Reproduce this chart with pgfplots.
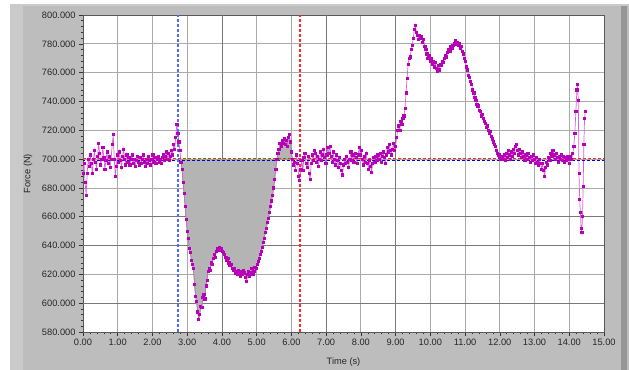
\documentclass[border=0pt]{standalone}
\usepackage{fontspec}
\setmainfont{Liberation Sans}
\usepackage{pgfplots}
\pgfplotsset{compat=1.18}
\definecolor{panel}{RGB}{189,189,189}
\definecolor{panelL}{RGB}{202,202,202}
\definecolor{panelR}{RGB}{150,150,150}
\definecolor{gridc}{RGB}{170,170,170}
\definecolor{gridd}{RGB}{120,120,120}
\definecolor{magl}{RGB}{215,100,215}
\definecolor{magm}{RGB}{185,0,185}
\definecolor{fillg}{RGB}{180,180,180}
\definecolor{cursorblue}{RGB}{80,105,255}
\definecolor{hblue}{RGB}{0,0,230}
\definecolor{vred}{RGB}{255,40,40}
\begin{document}
\begin{tikzpicture}
\fill[white] (0bp,0bp) rectangle (629bp,370bp);
\fill[panel] (10bp,0bp) rectangle (629bp,366bp);
\fill[panelL] (10bp,0bp) rectangle (23bp,366bp);
\fill[panelR] (621bp,0bp) rectangle (627bp,366bp);
\fill[panelL] (10bp,364bp) rectangle (629bp,366bp);
\begin{axis}[
  at={(83bp,38bp)}, anchor=south west,
  width=521bp, height=317bp, scale only axis,
  xmin=0, xmax=15, ymin=580, ymax=800,
  xtick={0,1,...,15}, ytick={580,600,...,800},
  minor x tick num=4, minor y tick num=4,
  tick align=outside, xtick pos=bottom, ytick pos=left,
  major tick length=4bp, minor tick length=2bp,
  every tick/.style={draw=black!80, line width=0.6bp},
  grid=major,
  major grid style={draw=gridc, line width=0.8bp},
  extra x ticks={4,7,9}, extra y ticks={600,640,660},
  extra tick style={grid=major, major grid style={draw=gridd, line width=0.8bp}, tick style={draw=none}},
  extra x tick labels={}, extra y tick labels={},
  axis line style={draw=black!65, line width=0.8bp},
  axis background/.style={fill=white},
  /pgf/number format/assume math mode=true,
  ticklabel style={font=\fontsize{9.3}{10}\selectfont, text=black!85},
  xticklabel style={/pgf/number format/.cd, fixed, fixed zerofill, precision=2},
  yticklabel style={/pgf/number format/.cd, fixed, fixed zerofill, precision=3, 1000 sep={}},
  xlabel={Time (s)}, ylabel={Force (N)},
  label style={font=\fontsize{9.3}{10}\selectfont, text=black!85},
  xlabel style={at={(axis description cs:0.5,-0.0946)}, anchor=center},
  ylabel style={at={(axis description cs:-0.1056,0.5)}, anchor=center},
  clip=true,
]
% shaded area
\addplot[fill=fillg, draw={rgb,255:red,0;green,210;blue,0}, line width=0.4bp] coordinates {
(2.80,700) (2.82,698) (2.85,693) (2.88,684) (2.91,676) (2.94,667) (2.97,658) (3.00,650) (3.03,645) (3.06,638) (3.09,635) (3.12,630) (3.15,627) (3.18,624) (3.21,613) (3.24,605) (3.27,601) (3.30,594) (3.33,589) (3.36,592) (3.39,598) (3.42,597) (3.45,604) (3.48,606) (3.51,603) (3.54,612) (3.57,616) (3.60,622) (3.63,624) (3.66,623) (3.69,628) (3.72,627) (3.75,631) (3.78,634) (3.81,632) (3.84,636) (3.87,638) (3.90,637) (3.93,639) (3.96,637) (3.99,638) (4.02,636) (4.05,635) (4.08,634) (4.11,632) (4.14,630) (4.17,631) (4.20,628) (4.23,626) (4.26,627) (4.29,624) (4.32,623) (4.35,624) (4.38,621) (4.41,622) (4.44,620) (4.47,623) (4.50,621) (4.53,619) (4.56,622) (4.59,620) (4.62,623) (4.65,621) (4.68,618) (4.71,615) (4.74,620) (4.77,622) (4.80,619) (4.83,621) (4.86,624) (4.89,620) (4.92,622) (4.95,625) (4.98,624) (5.01,627) (5.04,629) (5.07,631) (5.10,634) (5.13,636) (5.16,639) (5.19,642) (5.22,645) (5.25,649) (5.28,652) (5.31,656) (5.34,659) (5.37,663) (5.40,667) (5.43,671) (5.46,675) (5.49,680) (5.52,686) (5.55,693) (5.58,700) (5.61,704) (5.64,707) (5.67,711) (5.70,709) (5.73,713) (5.76,711) (5.79,714) (5.82,710) (5.85,713) (5.88,709) (5.91,715) (5.94,717) (5.97,712) (6.00,705) (6.03,700)
} -- cycle;
% force signal
\addplot[color=magl, line width=0.7bp, mark=square*, mark size=1.1bp, mark options={draw=magm, fill=magm, solid}] coordinates {
(0.00,690) (0.03,697) (0.06,684) (0.09,675) (0.12,690) (0.15,700) (0.18,695) (0.21,703) (0.24,697) (0.27,690) (0.30,700) (0.33,706) (0.36,698) (0.39,693) (0.42,702) (0.45,711) (0.48,704) (0.51,696) (0.54,700) (0.57,708) (0.60,701) (0.63,693) (0.66,699) (0.69,705) (0.72,697) (0.75,702) (0.78,694) (0.81,700) (0.84,710) (0.87,717) (0.90,700) (0.93,688) (0.96,695) (0.99,703) (1.02,698) (1.05,705) (1.08,699) (1.11,694) (1.14,702) (1.17,707) (1.20,700) (1.23,696) (1.26,703) (1.29,698) (1.32,701) (1.35,696) (1.38,700) (1.41,703) (1.44,697) (1.47,700) (1.50,695) (1.53,699) (1.56,702) (1.59,698) (1.62,696) (1.65,701) (1.68,697) (1.71,700) (1.74,703) (1.77,698) (1.80,695) (1.83,700) (1.86,697) (1.89,702) (1.92,699) (1.95,696) (1.98,700) (2.01,703) (2.04,698) (2.07,701) (2.10,697) (2.13,700) (2.16,702) (2.19,698) (2.22,700) (2.25,697) (2.28,701) (2.31,703) (2.34,699) (2.37,702) (2.40,705) (2.43,700) (2.46,704) (2.49,699) (2.52,702) (2.55,706) (2.58,703) (2.61,710) (2.64,707) (2.67,715) (2.70,724) (2.73,718) (2.76,712) (2.79,706)
(2.82,698) (2.85,693) (2.88,684) (2.91,676) (2.94,667) (2.97,658) (3.00,650) (3.03,645) (3.06,638) (3.09,635) (3.12,630) (3.15,627) (3.18,624) (3.21,613) (3.24,605) (3.27,601) (3.30,594) (3.33,589) (3.36,592) (3.39,598) (3.42,597) (3.45,604) (3.48,606) (3.51,603) (3.54,612) (3.57,616) (3.60,622) (3.63,624) (3.66,623) (3.69,628) (3.72,627) (3.75,631) (3.78,634) (3.81,632) (3.84,636) (3.87,638) (3.90,637) (3.93,639) (3.96,637) (3.99,638) (4.02,636) (4.05,635) (4.08,634) (4.11,632) (4.14,630) (4.17,631) (4.20,628) (4.23,626) (4.26,627) (4.29,624) (4.32,623) (4.35,624) (4.38,621) (4.41,622) (4.44,620) (4.47,623) (4.50,621) (4.53,619) (4.56,622) (4.59,620) (4.62,623) (4.65,621) (4.68,618) (4.71,615) (4.74,620) (4.77,622) (4.80,619) (4.83,621) (4.86,624) (4.89,620) (4.92,622) (4.95,625) (4.98,624) (5.01,627) (5.04,629) (5.07,631) (5.10,634) (5.13,636) (5.16,639) (5.19,642) (5.22,645) (5.25,649) (5.28,652) (5.31,656) (5.34,659) (5.37,663) (5.40,667) (5.43,671) (5.46,675) (5.49,680) (5.52,686) (5.55,693) (5.58,700) (5.61,704) (5.64,707) (5.67,711) (5.70,709) (5.73,713) (5.76,711) (5.79,714) (5.82,710) (5.85,713) (5.88,709) (5.91,715) (5.94,717) (5.97,712) (6.00,705) (6.03,700)
(6.06,696) (6.09,698) (6.12,692) (6.15,703) (6.18,697) (6.21,688) (6.24,685) (6.27,693) (6.30,699) (6.33,692) (6.36,701) (6.39,704) (6.42,697) (6.45,694) (6.48,702) (6.51,690) (6.54,686) (6.57,697) (6.60,703) (6.63,699) (6.66,706) (6.69,704) (6.72,698) (6.75,702) (6.78,695) (6.81,700) (6.84,705) (6.87,699) (6.90,703) (6.93,707) (6.96,701) (6.99,697) (7.02,703) (7.05,708) (7.08,704) (7.11,709) (7.14,702) (7.17,698) (7.20,705) (7.23,700) (7.26,696) (7.29,703) (7.32,699) (7.35,694) (7.38,701) (7.41,697) (7.44,692) (7.47,689) (7.50,696) (7.53,700) (7.56,697) (7.59,702) (7.62,698) (7.65,694) (7.68,700) (7.71,705) (7.74,699) (7.77,703) (7.80,698) (7.83,704) (7.86,701) (7.89,697) (7.92,703) (7.95,708) (7.98,703) (8.01,706) (8.04,700) (8.07,696) (8.10,702) (8.13,698) (8.16,704) (8.19,697) (8.22,693) (8.25,699) (8.28,695) (8.31,691) (8.34,697) (8.37,701) (8.40,698) (8.43,702) (8.46,699) (8.49,703) (8.52,700) (8.55,704) (8.58,698) (8.61,702) (8.64,705) (8.67,701) (8.70,697) (8.73,703) (8.76,708) (8.79,705) (8.82,710) (8.85,706) (8.88,703) (8.91,707) (8.94,711) (8.97,706) (9.00,709)
(9.03,715) (9.06,720) (9.09,723) (9.12,720) (9.15,726) (9.18,724) (9.21,728) (9.24,730) (9.27,735) (9.30,746) (9.33,756) (9.36,766) (9.39,770) (9.42,771) (9.45,776) (9.48,779) (9.51,784) (9.54,790) (9.57,793) (9.60,788) (9.63,786) (9.66,783) (9.69,786) (9.72,784) (9.75,785) (9.78,781) (9.81,783) (9.84,778) (9.87,776) (9.90,773) (9.93,770) (9.96,772) (9.99,768) (10.02,770) (10.05,766) (10.08,768) (10.11,764) (10.14,767) (10.17,763) (10.20,761) (10.23,765) (10.26,762) (10.29,766) (10.32,765) (10.35,768) (10.38,767) (10.41,770) (10.44,772) (10.47,771) (10.50,774) (10.53,776) (10.56,775) (10.59,778) (10.62,777) (10.65,779) (10.68,780) (10.71,782) (10.74,780) (10.77,781) (10.80,779) (10.83,780) (10.86,777) (10.89,778) (10.92,775) (10.95,773) (10.98,770) (11.01,768) (11.04,764) (11.07,762) (11.10,758) (11.13,757) (11.16,754) (11.19,752) (11.22,748) (11.25,746) (11.28,743) (11.31,741) (11.34,738) (11.37,737) (11.40,734) (11.43,733) (11.46,730) (11.49,731) (11.52,728) (11.55,726) (11.58,725) (11.61,722) (11.64,723) (11.67,720) (11.70,718) (11.73,719) (11.76,716) (11.79,714) (11.82,712) (11.85,710) (11.88,709) (11.91,706) (11.94,704) (11.97,703) (12.00,701) (12.03,700) (12.06,702)
(12.09,700) (12.12,703) (12.15,699) (12.18,704) (12.21,701) (12.24,706) (12.27,703) (12.30,700) (12.33,705) (12.36,702) (12.39,707) (12.42,704) (12.45,709) (12.48,710) (12.51,706) (12.54,703) (12.57,707) (12.60,704) (12.63,701) (12.66,705) (12.69,702) (12.72,699) (12.75,703) (12.78,700) (12.81,704) (12.84,701) (12.87,698) (12.90,702) (12.93,699) (12.96,703) (12.99,700) (13.02,697) (13.05,701) (13.08,698) (13.11,696) (13.14,700) (13.17,697) (13.20,693) (13.23,697) (13.26,692) (13.29,688) (13.32,694) (13.35,698) (13.38,696) (13.41,701) (13.44,699) (13.47,704) (13.50,702) (13.53,706) (13.56,703) (13.59,700) (13.62,704) (13.65,701) (13.68,698) (13.71,702) (13.74,700) (13.77,703) (13.80,699) (13.83,702) (13.86,698) (13.89,701) (13.92,699) (13.95,702) (13.98,700) (14.01,697) (14.04,702) (14.07,700) (14.10,704) (14.13,709) (14.16,718) (14.19,733) (14.22,748) (14.24,752) (14.26,741) (14.28,690) (14.30,672) (14.32,663) (14.34,652) (14.36,649) (14.38,660) (14.40,681) (14.42,710) (14.44,728) (14.46,733)
};
% horizontal reference lines
\addplot[draw=vred, line width=1.1bp, dash pattern=on 3bp off 2bp] coordinates {(0,700.4) (15,700.4)};
\addplot[draw=hblue, line width=1.1bp, dash pattern=on 3bp off 2bp, dash phase=1.5bp] coordinates {(0,698.8) (15,698.8)};
% vertical cursors
\addplot[draw=cursorblue, line width=2.2bp, dash pattern=on 3bp off 2bp] coordinates {(2.74,580) (2.74,800)};
\addplot[draw=vred, line width=1.6bp, dash pattern=on 3bp off 2bp] coordinates {(6.25,580) (6.25,800)};
\end{axis}
\path (0bp,0bp) rectangle (629bp,370bp);
\end{tikzpicture}
\end{document}
